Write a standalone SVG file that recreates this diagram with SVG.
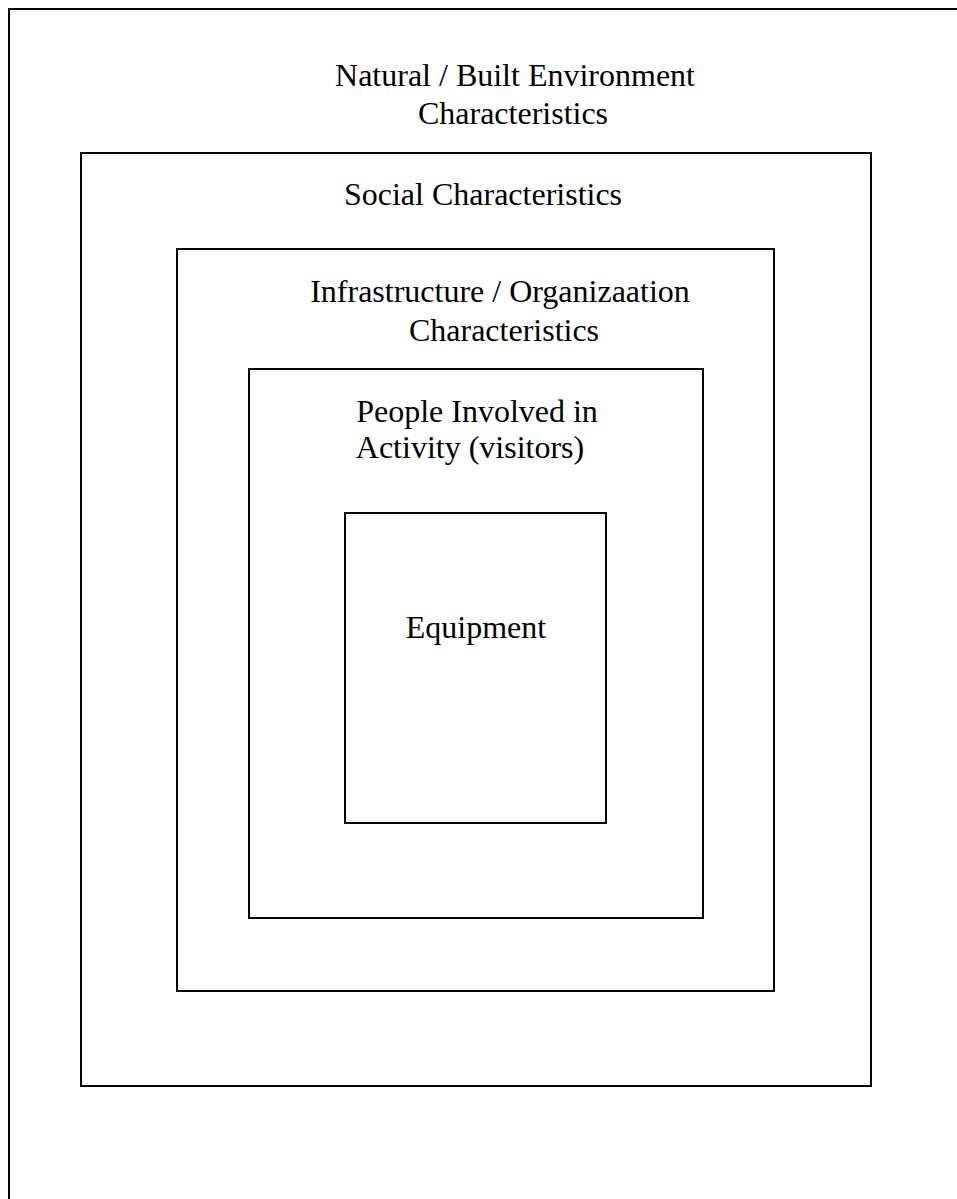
<svg xmlns="http://www.w3.org/2000/svg" width="957" height="1199" viewBox="0 0 957 1199">
<style>
.box{fill:none;stroke:#000;stroke-width:2}
.t{font-family:"Liberation Serif","Times New Roman",serif;font-size:32px;fill:#000;text-anchor:middle}
</style>
<rect x="0" y="0" width="957" height="1199" fill="#fff"/>
<g id="natural">
<rect class="box" x="9" y="9" width="1000" height="1250"/>
<text class="t" x="515" y="86">Natural / Built Environment</text>
<text class="t" x="513" y="124">Characteristics</text>
</g>
<g id="social">
<rect class="box" x="81" y="153" width="790" height="933"/>
<text class="t" x="483" y="205">Social Characteristics</text>
</g>
<g id="infrastructure">
<rect class="box" x="177" y="249" width="597" height="742"/>
<text class="t" x="500" y="302">Infrastructure / Organizaation</text>
<text class="t" x="504" y="341">Characteristics</text>
</g>
<g id="people">
<rect class="box" x="249" y="369" width="454" height="549"/>
<text class="t" x="477" y="422">People Involved in</text>
<text class="t" x="470" y="458">Activity (visitors)</text>
</g>
<g id="equipment">
<rect class="box" x="345" y="513" width="261" height="310"/>
<text class="t" x="476" y="638">Equipment</text>
</g>
<g id="connectors"></g>
</svg>
